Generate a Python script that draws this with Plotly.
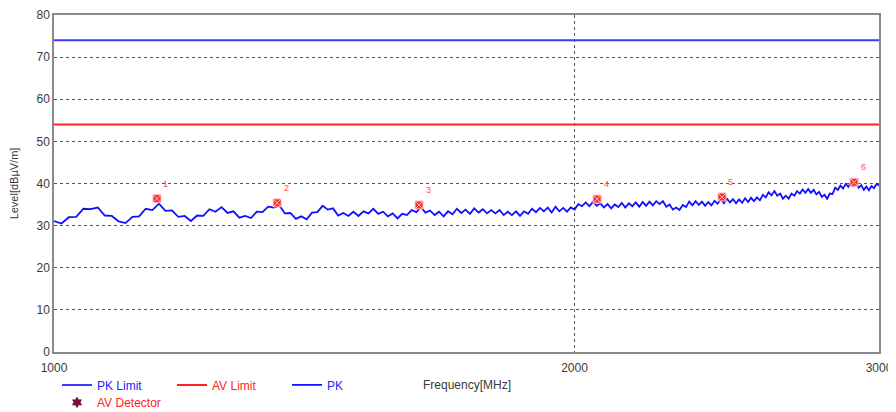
import math
import plotly.graph_objects as go

# ---------------- data ----------------
freq_start, freq_stop, freq_step = 1000, 3000, 10
freq_mhz = list(range(freq_start, freq_stop + 1, freq_step))

pk_level = [
    31.1, 30.5, 32.0, 32.1, 34.0, 33.9, 34.3, 32.4, 32.3, 31.0,
    30.6, 32.1, 32.2, 34.0, 33.7, 35.2, 33.5, 33.6, 32.1, 32.3,
    31.1, 32.4, 32.3, 33.9, 33.3, 34.4, 33.0, 33.4, 31.9, 32.3,
    31.8, 33.3, 33.2, 34.5, 34.3, 34.8, 32.9, 33.0, 31.6, 32.2,
    31.5, 33.1, 33.2, 34.7, 33.8, 34.1, 32.4, 33.0, 32.3, 33.3,
    32.3, 33.4, 32.9, 34.0, 32.8, 33.3, 32.2, 32.9, 31.7, 32.8,
    32.5, 33.7, 33.2, 34.4, 33.1, 33.6, 32.5, 33.3, 32.2, 33.4,
    32.7, 34.0, 33.0, 33.8, 32.8, 34.1, 33.1, 33.9, 32.9, 33.7,
    32.9, 33.7, 32.5, 33.3, 32.5, 33.4, 32.3, 33.4, 32.8, 34.0,
    33.2, 34.2, 33.4, 34.3, 33.1, 34.5, 33.4, 34.2, 33.3, 34.3,
    33.8, 35.1, 34.6, 35.5, 34.6, 35.7, 34.7, 35.3, 34.3, 35.1,
    34.1, 35.0, 34.4, 35.4, 34.3, 35.3, 34.6, 35.5, 34.5, 35.6,
    34.7, 35.7, 34.8, 35.8, 35.1, 35.8, 34.5, 35.0, 33.8, 34.3,
    33.7, 34.9, 34.4, 35.7, 34.8, 35.8, 34.9, 35.7, 34.7, 35.6,
    34.8, 35.9, 35.2, 36.3, 35.3, 36.4, 35.5, 36.3, 35.3, 36.2,
    35.4, 36.5, 35.6, 36.6, 35.8, 36.7, 36.0, 37.3, 36.7, 37.9,
    37.2, 38.2, 37.1, 37.6, 36.4, 37.1, 36.4, 37.6, 37.1, 38.2,
    37.6, 38.6, 37.8, 38.7, 37.8, 38.5, 37.4, 38.0, 36.8, 37.3,
    36.4, 37.6, 37.5, 39.0, 38.5, 39.5, 38.8, 39.9, 39.2, 40.2,
    39.4, 40.1, 39.0, 39.6, 38.5, 39.3, 38.4, 39.4, 38.9, 39.9, 39.5,
]

limit_freq = [1000, 3000]
pk_limit = [74, 74]
av_limit = [54, 54]

av_freq = [1147, 1346, 1626, 2061, 2434, 2902]
av_level = [36.4, 35.4, 34.9, 36.3, 36.8, 40.3]
av_labels = ["1", "2", "3", "4", "5", "6"]

y_ticks = [0, 10, 20, 30, 40, 50, 60, 70, 80]
x_ticks = [1000, 2000, 3000]

# ---------------- styling ----------------
BLUE = "#2323ff"
RED = "#ff2424"
FONT = "Liberation Sans, Arial, sans-serif"
TXT = "#3a3a3a"

fig = go.Figure()

fig.add_trace(go.Scatter(
    x=limit_freq, y=pk_limit, mode="lines",
    line=dict(color="#3b3bff", width=2),
    name=f'<span style="color:{BLUE}">PK Limit</span>', legend="legend"))
fig.add_trace(go.Scatter(
    x=limit_freq, y=av_limit, mode="lines",
    line=dict(color=RED, width=2),
    name=f'<span style="color:{RED}">AV Limit</span>', legend="legend"))
fig.add_trace(go.Scatter(
    x=freq_mhz, y=pk_level, mode="lines",
    line=dict(color="#1010ff", width=1.8),
    name=f'<span style="color:{BLUE}">PK</span>', legend="legend"))
fig.add_trace(go.Scatter(
    x=av_freq, y=av_level, mode="markers",
    marker=dict(symbol="square-x", size=8, color="#ff2a2a",
                line=dict(color="#ffc0c0", width=1)),
    showlegend=False))
fig.add_trace(go.Scatter(
    x=[None], y=[None], mode="markers",
    marker=dict(symbol="hexagram", size=9, color="#7a1035"),
    name=f'<span style="color:{RED}">AV Detector</span>', legend="legend2"))

annotations = []
for f, v, t in zip(av_freq, av_level, av_labels):
    annotations.append(dict(
        x=math.log10(f), y=v, xref="x", yref="y", text=t, showarrow=False,
        xshift=9, yshift=15, font=dict(size=9, color="#ff5050", family=FONT)))
annotations.append(dict(
    x=0.5, y=-0.097, xref="paper", yref="paper", text="Frequency[MHz]",
    showarrow=False, yanchor="middle", font=dict(size=12, color=TXT, family=FONT)))

fig.update_layout(
    width=896, height=412,
    margin=dict(l=46, r=25, t=7, b=68, autoexpand=False),
    paper_bgcolor="white", plot_bgcolor="white",
    font=dict(family=FONT, size=12, color=TXT),
    annotations=annotations,
    legend=dict(orientation="h", xref="container", yref="container",
                x=0.0547, y=0.1204, xanchor="left", yanchor="top",
                entrywidth=70, entrywidthmode="pixels",
                bgcolor="rgba(0,0,0,0)", font=dict(size=12, family=FONT),
                itemwidth=30, tracegroupgap=0),
    legend2=dict(orientation="h", xref="container", yref="container",
                 x=0.0547, y=0.078, xanchor="left", yanchor="top",
                 bgcolor="rgba(0,0,0,0)", font=dict(size=12, family=FONT),
                 itemwidth=30),
)

fig.update_xaxes(
    type="log", range=[math.log10(1000), math.log10(3000)],
    tickvals=x_ticks, ticktext=[str(v) for v in x_ticks],
    showgrid=True, gridcolor="#555555", griddash="dot", gridwidth=1,
    showline=True, mirror=True, linecolor="#8a8a8a", linewidth=1.5,
    ticks="", tickfont=dict(size=12, color=TXT), zeroline=False,
    ticklabelstandoff=4, ticklabeloverflow="allow", automargin=False,
)
fig.update_yaxes(
    range=[0, 80], tickvals=y_ticks,
    showgrid=True, gridcolor="#555555", griddash="dot", gridwidth=1,
    showline=True, mirror=True, linecolor="#8a8a8a", linewidth=1.5,
    ticks="", tickfont=dict(size=12, color=TXT), zeroline=False,
    ticklabeloverflow="allow",
    title=dict(text="Level[dBµV/m]", font=dict(size=11, color=TXT), standoff=16),
    automargin=False,
)

fig.write_html("out.html")
